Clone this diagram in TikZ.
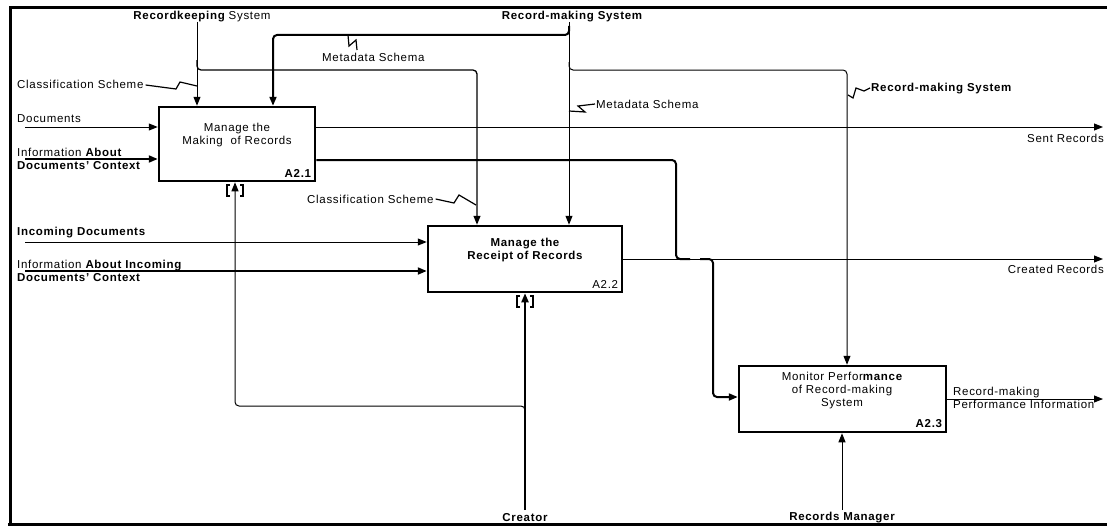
\documentclass[tikz,border=0pt]{standalone}
\usepackage{fontspec}
\setmainfont{Liberation Sans}[LetterSpace=6]
\usetikzlibrary{arrows.meta,calc}
\begin{document}
\begin{tikzpicture}[x=1pt,y=-1pt,
  every node/.style={font=\fontsize{11.5}{13}\selectfont, inner sep=0pt},
  fn/.style={draw, line width=2.5pt, inner sep=0pt},
  ln/.style={line width=1pt},
  lk/.style={line width=2pt},
  ar/.style={-{Triangle[length=9pt,width=7pt]}},
  rc/.style={rounded corners=4pt},
  lbl/.style={align=left},
  zz/.style={line width=1.2pt},
  tun/.style={line width=1.4pt},
  ]
\useasboundingbox (0,0) rectangle (1107,527);
% frame
\draw[line width=3pt] (10,526) -- (10,8) -- (1110,8);
\draw[line width=3pt] (8,524) -- (1110,524);

% function boxes
\node[fn, minimum width=156pt, minimum height=74pt] (A21) at (237,144) {};
\node[fn, minimum width=194pt, minimum height=66pt] (A22) at (525,259) {};
\node[fn, minimum width=207pt, minimum height=66pt] (A23) at (842.5,399) {};
\node[align=center] (A21t) at (237,135) {Manage the\\Making\ \ of Records};
\node[align=center, font=\fontsize{11.5}{13}\selectfont\bfseries] (A22t) at (525,250) {Manage the\\Receipt of Records};
\node[align=center] (A23t) at (842,391) {Monitor Perfor{\bfseries mance}\\of Record-making\\System};
\node[anchor=south east, font=\fontsize{11.5}{13}\selectfont\bfseries] (A21n) at ($(A21.south east)+(-5,-5)$) {A2.1};
\node[anchor=south east] (A22n) at ($(A22.south east)+(-5,-5)$) {A2.2};
\node[anchor=south east, font=\fontsize{11.5}{13}\selectfont\bfseries] (A23n) at ($(A23.south east)+(-5,-5)$) {A2.3};

% labels
\node (rksL) at (202,17) {{\bfseries Recordkeeping} System};
\node[font=\fontsize{11.5}{13}\selectfont\bfseries] (rmsL) at (572,17) {Record-making System};
\node[anchor=west] (csL1) at (17,84) {Classification Scheme};
\node[anchor=west] (docsL) at (17,119) {Documents};
\node[anchor=west, lbl] (idcL) at (17,159) {Information {\bfseries About}\\{\bfseries Documents' Context}};
\node[anchor=west] (msL1) at (322,57) {Metadata Schema};
\node[anchor=west] (msL2) at (596,104) {Metadata Schema};
\node[anchor=west, font=\fontsize{11.5}{13}\selectfont\bfseries] (rmsL2) at (871,89) {Record-making System};
\node[anchor=east] (sentL) at (1104,138) {Sent Records};
\node[anchor=west] (csL2) at (307,199) {Classification Scheme};
\node[anchor=west, font=\fontsize{11.5}{13}\selectfont\bfseries] (incL) at (17,233) {Incoming Documents};
\node[anchor=west, lbl] (iicL) at (17,271) {Information {\bfseries About Incoming}\\{\bfseries Documents' Context}};
\node[anchor=east] (crL) at (1104,269) {Created Records};
\node[anchor=west, lbl] (perfL) at (953,398) {Record-making\\Performance Information};
\node[font=\fontsize{11.5}{13}\selectfont\bfseries] (creL) at (525,518) {Creator};
\node[font=\fontsize{11.5}{13}\selectfont\bfseries] (rmL) at (842,518) {Records Manager};

% free ends
\coordinate (rks) at (197,22);
\coordinate (rms) at (569,22);
\coordinate (docs) at (25,127);
\coordinate (idc) at (25,159);
\coordinate (inc) at (25,242);
\coordinate (iic) at (25,271);
\coordinate (sent) at (1103,127);
\coordinate (cre) at (1103,259);
\coordinate (perf) at (1103,399);
\coordinate (crt) at (525,510);
\coordinate (rmg) at (842,510);

% controls
\draw[ln,ar] (rks) -- (A21.north -| rks);
\draw[line width=1.3pt,rc,ar] ($(rks)+(0,38)$) -- (197,70) -- (477,70) -- (A22.north -| 477,0);
\draw[ln,ar] (rms) -- (A22.north -| rms);
\draw[lk,rc,ar] ($(rms)+(0,4)$) -- (569,35) -- (273,35) -- (A21.north -| 273,0);
\draw[ln,rc,ar] ($(rms)+(0,40)$) -- (569,70) -- (847,70) -- (A23.north -| 847,0);

% inputs
\draw[ln,ar] (docs) -- (A21.west |- docs);
\draw[lk,ar] (idc) -- (A21.west |- idc);
\draw[ln,ar] (inc) -- (A22.west |- inc);
\draw[lk,ar] (iic) -- (A22.west |- iic);

% outputs
\draw[ln,ar] (A21.east |- sent) -- (sent);
\draw[lk,rc] (A21.east |- 0,160) -- (676,160) -- (676,259) -- (690,259);
\draw[ln,ar] (A22.east |- cre) -- (cre);
\draw[lk,rc,ar] (700,259) -- (713,259) -- (713,397) -- (A23.west |- 0,397);
\draw[ln,ar] (A23.east |- perf) -- (perf);

% mechanisms
\draw[lk,ar] (crt) -- (A22.south -| crt);
\draw[ln,rc,ar] (525,416) -- (525,406) -- (235,406) -- (A21.south -| 235,0);
\draw[ln,ar] (rmg) -- (A23.south -| rmg);

% tunnels
\draw[tun] (230,185) -- (227,185) -- (227,196) -- (230,196);
\draw[tun] (240,185) -- (243,185) -- (243,196) -- (240,196);
\draw[tun] (520,296) -- (517,296) -- (517,307) -- (520,307);
\draw[tun] (530,296) -- (533,296) -- (533,307) -- (530,307);

% squiggles
\draw[zz] (csL1.east) ++(2,1) -- (176,89) -- (180,82) -- (197,86);
\draw[zz] (348,35) -- (349,46) -- (356,40) -- (357,50);
\draw[zz] (569,111) -- (585,112) -- (578,106) -- (595,104);
\draw[zz] (848,95) -- (853,98) -- (856,88) -- (864,91) -- (870,88);
\draw[zz] (csL2.east) ++(2,0) -- (454,203) -- (459,195) -- (476,205);
\end{tikzpicture}
\end{document}
